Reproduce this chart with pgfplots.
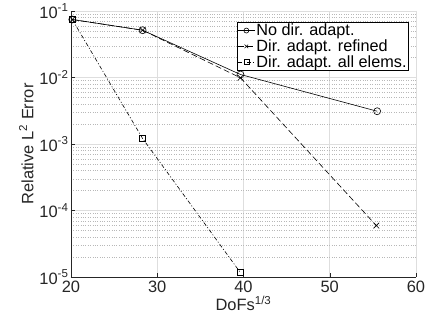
\documentclass[border=0pt]{standalone}
\usepackage{pgfplots}
\pgfplotsset{compat=1.18}
\usepackage{fontspec}
\setmainfont{Liberation Sans}
\definecolor{txt}{gray}{0.15}
\definecolor{gridc}{gray}{0.87}
\definecolor{mgridc}{gray}{0.72}
\begin{document}
\begin{tikzpicture}
\begin{axis}[
  scale only axis,
  width=345bp, height=266bp,
  xmin=20, xmax=60, ymode=log, ymin=1e-5, ymax=1e-1,
  xtick={20,30,40,50,60},
  ytick={1e-5,1e-4,1e-3,1e-2,1e-1},
  yticklabels={10\textsuperscript{-5},10\textsuperscript{-4},10\textsuperscript{-3},10\textsuperscript{-2},10\textsuperscript{-1}},
  minor ytick={2e-5,3e-5,4e-5,5e-5,6e-5,7e-5,8e-5,9e-5,
               2e-4,3e-4,4e-4,5e-4,6e-4,7e-4,8e-4,9e-4,
               2e-3,3e-3,4e-3,5e-3,6e-3,7e-3,8e-3,9e-3,
               2e-2,3e-2,4e-2,5e-2,6e-2,7e-2,8e-2,9e-2},
  /pgf/number format/assume math mode=true,
  ticklabel style={font=\fontsize{16.5}{18}\selectfont, text=txt},
  label style={font=\fontsize{16.5}{18}\selectfont, text=txt},
  yticklabel style={xshift=1bp},
  xlabel={DoFs\textsuperscript{1/3}},
  ylabel={Relative L\textsuperscript{2} Error},
  xlabel style={yshift=3bp},
  ylabel style={yshift=-1bp},
  grid=both,
  major grid style={gridc, line width=0.5pt},
  minor grid style={mgridc, dotted, line width=0.4pt},
  minor y tick style={draw=none},
  axis x line*=bottom, axis y line*=left,
  axis line style={txt, line width=0.6pt, -},
  tick align=inside,
  tick style={txt},
  major tick length=4bp,
  every axis plot/.append style={black, line width=0.6pt},
  legend style={at={(0.977,0.957)}, anchor=north east, draw=black, fill=white,
    font=\fontsize{16.3}{17}\selectfont, inner sep=0.5pt, row sep=1pt,
    nodes={inner sep=0.8pt},
    /tikz/every odd column/.append style={column sep=0.5pt}},
  legend cell align=left,
  legend image code/.code={\draw[mark repeat=2,mark phase=2,#1, mark size=2.5bp] plot coordinates {(0bp,0bp) (8.5bp,0bp) (17bp,0bp)};},
]
\addplot[solid, mark=o, mark size=3.5bp] coordinates {(20.15,0.0745) (28.3,0.0514) (39.65,0.0111) (55.5,0.00311)};
\addlegendentry{No dir. adapt.}
\addplot[dashed, dash pattern=on 6pt off 3pt, mark=x, mark size=4bp, mark options={solid}] coordinates {(20.15,0.0745) (28.3,0.0514) (39.65,0.0099) (55.4,5.94e-5)};
\addlegendentry{Dir. adapt. refined}
\addplot[dash pattern=on 4pt off 2pt on 1pt off 2pt, mark=square, mark size=3bp, mark options={solid}] coordinates {(20.15,0.0745) (28.3,0.00121) (39.65,1.16e-5)};
\addlegendentry{Dir. adapt. all elems.}
\end{axis}
\pgfresetboundingbox
\path ([shift={(-71bp,-54bp)}]current axis.south west) rectangle ([shift={(11bp,11bp)}]current axis.north east);
\end{tikzpicture}
\end{document}
